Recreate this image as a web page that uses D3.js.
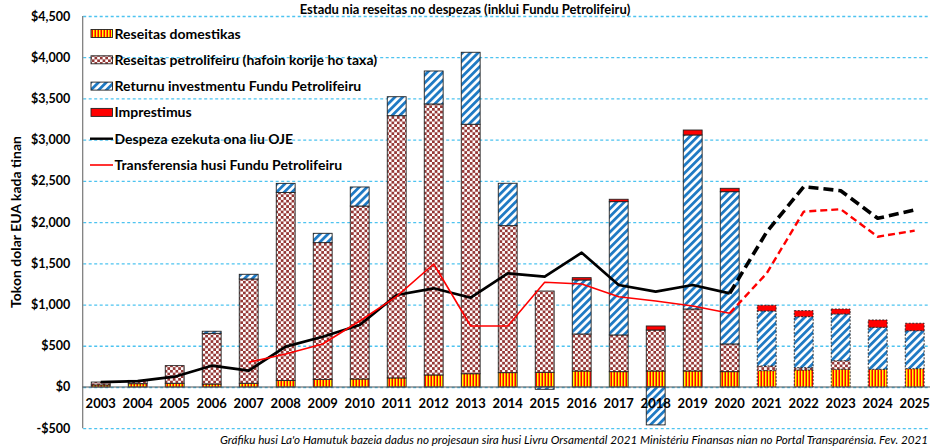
<!DOCTYPE html>
<html><head><meta charset="utf-8">
<script src="https://cdn.jsdelivr.net/npm/d3@7"></script>
<style>
html,body{margin:0;padding:0;background:#fff;overflow:hidden;}
svg{display:block;font-family:Lato,"Liberation Sans",sans-serif;}
</style></head>
<body>
<svg id="chart" width="930" height="447"></svg>
<script>
const years = ["2003","2004","2005","2006","2007","2008","2009","2010","2011","2012","2013","2014","2015","2016","2017","2018","2019","2020","2021","2022","2023","2024","2025"];
const domestic  = [25,40,45,36,45,80,93,97,110,146,161,174,178,194,186,194,194,186,198,206,215,215,222];
const petroleum = [35,40,214,615,1265,2280,1658,2098,3181,3287,3026,1783,986,449,445,497,752,336,57,28,104,0,0];
const returns   = [0,0,0,25,57,110,113,231,230,400,873,514,-28,655,1617,-460,2111,1847,667,619,567,509,461];
const loans     = [0,0,0,0,0,0,0,0,0,0,0,0,0,28,29,49,60,41,69,73,60,89,90];
const expenditure = [60,70,125,258,198,489,610,752,1116,1197,1083,1379,1338,1629,1237,1156,1237,1136,1880,2430,2381,2046,2147];
const transfer    = [null,null,null,null,300,400,522,800,1100,1492,740,740,1270,1250,1095,1043,982,894,1379,2127,2156,1823,1896];
const yTicks = [-500,0,500,1000,1500,2000,2500,3000,3500,4000,4500];
const firstProjection = "2021";
const lastActual = "2020";
const title = "Estadu nia reseitas no despezas (inklui Fundu Petrolifeiru)";
const yTitle = "Tokon dolar EUA kada tinan";
const footnote = "Gráfiku husi La'o Hamutuk bazeia dadus no projesaun sira husi Livru Orsamentál 2021 Ministériu Finansas nian no Portal Transparénsia.  Fev. 2021";
const legendItems = [
  {label:"Reseitas domestikas", type:"domestic"},
  {label:"Reseitas petrolifeiru (hafoin korije ho taxa)", type:"petroleum"},
  {label:"Returnu investmentu Fundu Petrolifeiru", type:"returns"},
  {label:"Imprestimus", type:"loans"},
  {label:"Despeza ezekuta ona liu OJE", type:"black"},
  {label:"Transferensia husi Fundu Petrolifeiru", type:"red"}
];

const svg = d3.select("#chart");
const defs = svg.append("defs");
// domestic: vertical yellow/red stripes
const pd = defs.append("pattern").attr("id","pDom").attr("patternUnits","userSpaceOnUse").attr("width",3).attr("height",3);
pd.append("rect").attr("width",3).attr("height",3).attr("fill","#ffff00");
pd.append("rect").attr("x",1.5).attr("width",1.5).attr("height",3).attr("fill","#ff0000");
// petroleum: checkerboard
const pp = defs.append("pattern").attr("id","pPet").attr("patternUnits","userSpaceOnUse").attr("width",5.4).attr("height",5.4);
pp.append("rect").attr("width",5.4).attr("height",5.4).attr("fill","#ffffff");
pp.append("rect").attr("width",2.7).attr("height",2.7).attr("fill","#953735");
pp.append("rect").attr("x",2.7).attr("y",2.7).attr("width",2.7).attr("height",2.7).attr("fill","#953735");
// returns: diagonal blue stripes
const pr = defs.append("pattern").attr("id","pRet").attr("patternUnits","userSpaceOnUse").attr("width",5.5).attr("height",5.5).attr("patternTransform","rotate(45)");
pr.append("rect").attr("width",5.5).attr("height",5.5).attr("fill","#ffffff");
pr.append("rect").attr("width",2.8).attr("height",5.5).attr("fill","#1f7ac4");

const fills = {domestic:"url(#pDom)", petroleum:"url(#pPet)", returns:"url(#pRet)", loans:"#ff0000"};

const plotL = 82.2, plotR = 933.2;
const x = d3.scaleBand().domain(years).range([plotL, plotR]).paddingInner(0.49).paddingOuter(0.245);
const y = d3.scaleLinear().domain([-500,4500]).range([428.2,16]);

// gridlines
const grid = svg.append("g").attr("transform",`translate(${plotL+1},0)`)
  .call(d3.axisLeft(y).tickValues(yTicks).tickSize(-(930-plotL)).tickFormat(""));
grid.select(".domain").remove();
grid.selectAll(".tick line").attr("stroke","#4dc3f0").attr("stroke-width",1.3).attr("stroke-dasharray","3,2.5");

// y axis labels
const ya = svg.append("g").attr("transform",`translate(${plotL},0)`)
  .call(d3.axisLeft(y).tickValues(yTicks).tickSize(0).tickPadding(12)
    .tickFormat(d => (d<0?"-":"") + "$" + d3.format(",")(Math.abs(d))));
ya.select(".domain").remove();
ya.selectAll("text").attr("font-size",12.5).attr("font-weight","bold").attr("fill","#000").attr("font-family","Lato,sans-serif");
svg.append("line").attr("x1",plotL+0.5).attr("x2",plotL+0.5).attr("y1",y(4500)).attr("y2",y(-500)).attr("stroke","#777").attr("stroke-width",1.2);

// bars
const rows = years.map((yr,i)=>({year:yr, domestic:domestic[i], petroleum:petroleum[i], returns:returns[i], loans:loans[i]}));
const keys = ["domestic","petroleum","returns","loans"];
const series = d3.stack().keys(keys).offset(d3.stackOffsetDiverging)(rows);
const isProj = yr => +yr >= +firstProjection;
series.forEach(s=>{
  svg.append("g").selectAll("rect").data(s.filter(d=>d[1]!==d[0])).join("rect")
    .attr("x", d=>x(d.data.year))
    .attr("width", x.bandwidth())
    .attr("y", d=>y(Math.max(d[0],d[1])))
    .attr("height", d=>Math.abs(y(d[0])-y(d[1])))
    .attr("fill", fills[s.key])
    .attr("stroke", "#222")
    .attr("stroke-width", 0.9)
    .attr("stroke-dasharray", d=> isProj(d.data.year) ? "2,1.5" : null);
});

// zero line
svg.append("line").attr("x1",plotL).attr("x2",930).attr("y1",y(0)).attr("y2",y(0)).attr("stroke","#555").attr("stroke-width",1.2);

// x axis labels
const xa = svg.append("g").attr("transform",`translate(0,${y(0)})`)
  .call(d3.axisBottom(x).tickSize(0).tickPadding(12));
xa.select(".domain").remove();
xa.selectAll("text").attr("font-size",13).attr("font-weight","bold").attr("fill","#000").attr("font-family","Lato,sans-serif");

// lines
const cx = yr => x(yr) + x.bandwidth()/2;
function drawLine(vals, color, width, dashed){
  const pts = years.map((yr,i)=>({yr, v:vals[i]})).filter(d=>d.v!==null);
  const idx = pts.findIndex(d=>d.yr===lastActual);
  const solid = pts.slice(0, idx+1), proj = pts.slice(idx);
  const line = d3.line().x(d=>cx(d.yr)).y(d=>y(d.v));
  svg.append("path").attr("d",line(solid)).attr("fill","none").attr("stroke",color).attr("stroke-width",width).attr("stroke-linejoin","round");
  svg.append("path").attr("d",line(proj)).attr("fill","none").attr("stroke",color).attr("stroke-width",dashed.w).attr("stroke-dasharray",dashed.d).attr("stroke-linejoin","round");
}
drawLine(expenditure, "#000", 2.7, {w:3.6, d:"10,5"});
drawLine(transfer, "#ff0000", 1.6, {w:2.4, d:"7,4"});

// legend
const lg = svg.append("g");
legendItems.forEach((it,i)=>{
  const cy = 33.5 + i*26.3;
  if (fills[it.type]) {
    lg.append("rect").attr("x",91).attr("y",cy-4).attr("width",21.5).attr("height",8).attr("fill",fills[it.type]).attr("stroke","#222").attr("stroke-width",0.9);
  } else {
    lg.append("line").attr("x1",90).attr("x2",113).attr("y1",cy).attr("y2",cy)
      .attr("stroke", it.type==="black" ? "#000" : "#ff0000").attr("stroke-width", it.type==="black"?2.4:1.6);
  }
  lg.append("text").attr("x",114.5).attr("y",cy).attr("dy","0.36em").attr("font-size",14).attr("font-weight","bold").attr("fill","#000").text(it.label);
});

// title
svg.append("text").attr("x",465).attr("y",13.5).attr("text-anchor","middle").attr("font-size",13).attr("font-weight","bold").attr("fill","#000").text(title);

// y title
svg.append("text").attr("transform","translate(21,222) rotate(-90)").attr("text-anchor","middle").attr("font-size",14).attr("font-weight","bold").attr("fill","#000").text(yTitle);

// footnote
svg.append("text").attr("x",928).attr("y",444).attr("text-anchor","end").attr("font-size",11.5).attr("font-style","italic").attr("fill","#000")
  .attr("textLength",708).attr("lengthAdjust","spacingAndGlyphs").text(footnote);
</script>
</body></html>
